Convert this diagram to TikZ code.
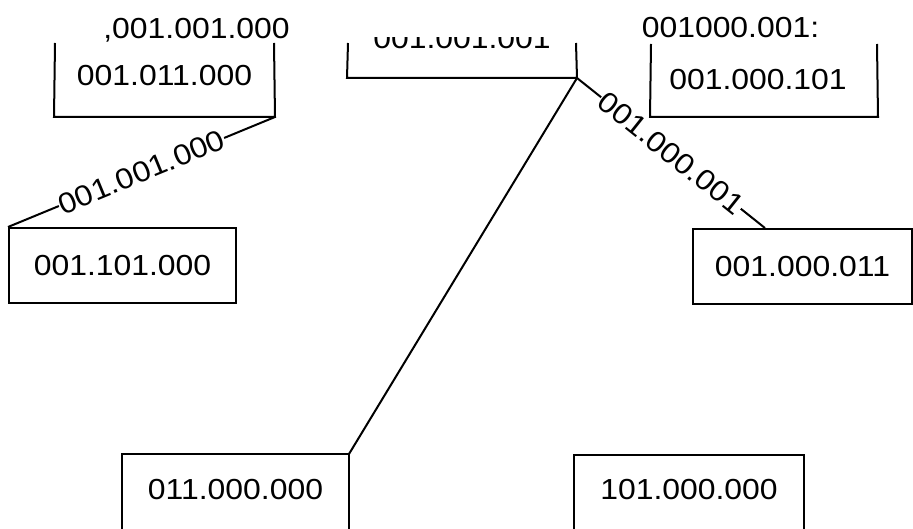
\documentclass[tikz,border=0pt]{standalone}
\usepackage{fontspec}
\setmainfont{Liberation Sans}[FakeStretch=1.1]
\usetikzlibrary{calc}
\begin{document}
\begin{tikzpicture}[x=1pt,y=-1pt,line width=2pt,
  txt/.style={font=\fontsize{29}{34}\selectfont, inner sep=0pt},
  boxnode/.style={txt, rectangle, draw},
  openbox/.style={txt, rectangle, draw=none},
  edgelabel/.style={txt, midway, sloped, fill=white, inner sep=0.5pt}]
\useasboundingbox (0,0) rectangle (913,529);
\clip (0,0) rectangle (913,529);

% top-left open box
\node[openbox, minimum width=219pt, minimum height=80pt] (tl) at (164.5,76) {001.011.000};
\draw (55,43) -- (tl.south west) -- (tl.south east) -- (274,43);
\node[txt, anchor=base] (tllab) at (196.5,39) {,001.001.000};

% top-middle open box (text cut at its top)
\node[openbox, minimum width=228pt, minimum height=77pt] (tm) at (462,38.5) {};
\begin{scope}
  \clip (348,38) rectangle (576,77);
  \node[txt, anchor=base] (tmtext) at (462,49) {001.001.001};
\end{scope}
\draw (348,43) -- (tm.south west) -- (tm.south east) -- (576,43);

% top-right open box
\node[openbox, minimum width=226pt, minimum height=72pt] (tr) at (764,80) {};
\node[txt] (trtext) at (758,80) {001.000.101};
\draw (651,44) -- (tr.south west) -- (tr.south east) -- (877,44);
\node[txt, anchor=base] (trlab) at (730.5,38) {001000.001:};

% middle boxes
\node[boxnode, minimum width=227pt, minimum height=75pt] (bl) at (122.5,265.5) {001.101.000};
\node[boxnode, minimum width=219pt, minimum height=75pt] (r) at (802.5,266.5) {001.000.011};

% bottom boxes (cut by the lower edge)
\node[openbox, minimum width=225pt, minimum height=70pt] (b1) at (235.5,490) {011.000.000};
\draw ([yshift=-60pt]b1.south west) -- (b1.north west) -- (b1.north east) -- ([yshift=-60pt]b1.south east);
\node[openbox, minimum width=228pt, minimum height=68pt] (b2) at (689,490) {101.000.000};
\draw ([yshift=-60pt]b2.south west) -- (b2.north west) -- (b2.north east) -- ([yshift=-60pt]b2.south east);

% connectors
\draw (tl.south east) -- node[edgelabel] {001.001.000} (bl.north west);
\draw (tm.south east) -- (b1.north east);
\coordinate (rin) at ($(r.north west)!0.33!(r.north east)$);
\draw (tm.south east) -- node[edgelabel] {001.000.001} (rin);
\end{tikzpicture}
\end{document}
